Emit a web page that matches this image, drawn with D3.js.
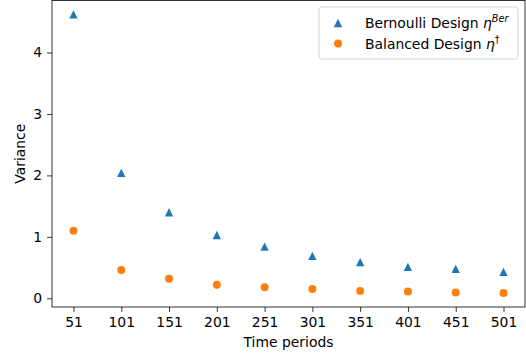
<!DOCTYPE html>
<html><head><meta charset="utf-8">
<script src="https://cdn.jsdelivr.net/npm/d3@7"></script>
<style>body{margin:0;background:#fff}svg{display:block}text{font-family:"DejaVu Sans",sans-serif;fill:#000}</style>
</head><body>
<script>
const periods = [51,101,151,201,251,301,351,401,451,501];
const bernoulli = [4.62,2.04,1.40,1.03,0.84,0.69,0.59,0.51,0.48,0.43];
const balanced = [1.10,0.46,0.32,0.22,0.18,0.15,0.12,0.11,0.095,0.085];
const yTicks = [0,1,2,3,4];

const W=526,H=354;
const L=52,R=525,T=0.5,B=307;
const svg=d3.select("body").append("svg").attr("width",W).attr("height",H);

const xmin=d3.min(periods),xmax=d3.max(periods),xm=(xmax-xmin)*0.05;
const all=bernoulli.concat(balanced);
const ymin=d3.min(all),ymax=d3.max(all),ym=(ymax-ymin)*0.05;
const x=d3.scaleLinear().domain([xmin-xm,xmax+xm]).range([L,R]);
const y=d3.scaleLinear().domain([ymin-ym,ymax+ym]).range([B,T]);

const xAxis=d3.axisBottom(x).tickValues(periods).tickSize(4.9).tickPadding(4.9).tickFormat(d3.format("d"));
const yAxis=d3.axisLeft(y).tickValues(yTicks).tickSize(4.9).tickPadding(4.9).tickFormat(d3.format("d"));
const gx=svg.append("g").attr("transform",`translate(0,${B})`).call(xAxis);
const gy=svg.append("g").attr("transform",`translate(${L},0)`).call(yAxis);
[gx,gy].forEach(g=>{g.select(".domain").remove();g.selectAll("line").attr("stroke","#000").attr("stroke-width",0.8);g.selectAll("text").attr("font-size",13.9).attr("font-family","DejaVu Sans").attr("fill","#000");});

svg.append("rect").attr("x",L).attr("y",T).attr("width",R-L).attr("height",B-T).attr("fill","none").attr("stroke","#000").attr("stroke-width",0.8);

const tri=d3.symbol().type(d3.symbolTriangle);
const s=8.33/2;
const triPath=`M0,${-s}L${s},${s}L${-s},${s}Z`;
svg.append("g").selectAll("path").data(periods).join("path")
  .attr("d",triPath).attr("transform",(d,i)=>`translate(${x(d)},${y(bernoulli[i])})`).attr("fill","#1f77b4");
svg.append("g").selectAll("circle").data(periods).join("circle")
  .attr("cx",d=>x(d)).attr("cy",(d,i)=>y(balanced[i])).attr("r",4.0).attr("fill","#ff7f0e");

svg.append("text").attr("x",(L+R)/2).attr("y",347).attr("text-anchor","middle").attr("font-size",13.9).text("Time periods");
svg.append("text").attr("transform",`translate(25,${(T+B)/2}) rotate(-90)`).attr("text-anchor","middle").attr("font-size",13.9).text("Variance");

// legend
const lg=svg.append("g");
lg.append("rect").attr("x",319).attr("y",7).attr("width",199).attr("height",52).attr("rx",2.8)
  .attr("fill","#fff").attr("fill-opacity",0.8).attr("stroke","#cccccc").attr("stroke-width",0.8);
lg.append("path").attr("d",triPath).attr("transform","translate(338,23)").attr("fill","#1f77b4");
lg.append("circle").attr("cx",338).attr("cy",43.5).attr("r",4).attr("fill","#ff7f0e");
const t1=lg.append("text").attr("x",365).attr("y",28).attr("font-size",13.9);
t1.append("tspan").text("Bernoulli Design ");
t1.append("tspan").attr("font-style","italic").text("η");
t1.append("tspan").attr("font-style","italic").attr("font-size",9.7).attr("dy",-6).text("Ber");
const t2=lg.append("text").attr("x",365).attr("y",49).attr("font-size",13.9);
t2.append("tspan").text("Balanced Design ");
t2.append("tspan").attr("font-style","italic").text("η");
t2.append("tspan").attr("font-size",9.7).attr("dy",-6).text("†");
</script>
</body></html>
